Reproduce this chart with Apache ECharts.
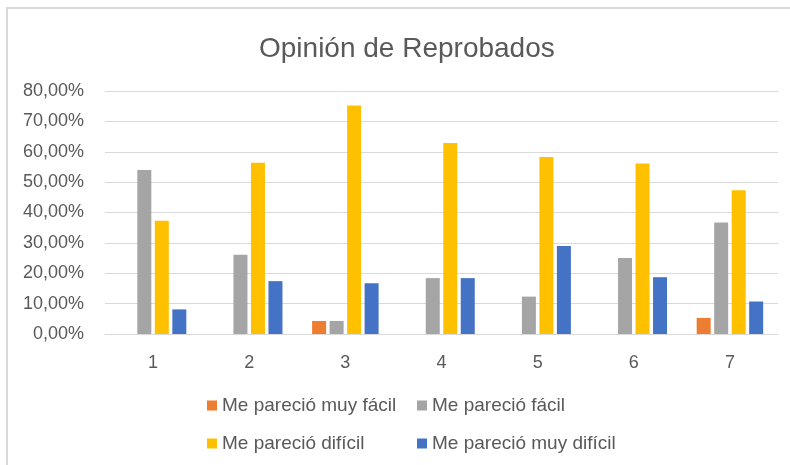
<!DOCTYPE html>
<html>
<head>
<meta charset="utf-8">
<script src="https://cdn.jsdelivr.net/npm/echarts@6/dist/echarts.min.js"></script>
<style>
  html, body { margin: 0; padding: 0; background: #fff; }
  #grafica { width: 790px; height: 465px; }
</style>
</head>
<body>
<div id="grafica"></div>
<script>
// datos
var categorias = ['1', '2', '3', '4', '5', '6', '7'];
var muyFacil    = [0, 0, 4.3, 0, 0, 0, 5.3];
var facil       = [54.0, 26.1, 4.3, 18.4, 12.3, 25.0, 36.7];
var dificil     = [37.3, 56.4, 75.2, 62.9, 58.3, 56.1, 47.3];
var muyDificil  = [8.1, 17.4, 16.7, 18.4, 29.0, 18.7, 10.7];
var nombres = ['Me pareció muy fácil', 'Me pareció fácil', 'Me pareció difícil', 'Me pareció muy difícil'];
var colores = ['#ed7d31', '#a5a5a5', '#ffc000', '#4472c4'];

var fuente = 'Liberation Sans';
var grisTexto = '#595959';

function leyenda(nombre, x, y) {
    return {
        data: [nombre],
        left: x,
        top: y,
        itemWidth: 10,
        itemHeight: 10,
        itemGap: 0,
        icon: 'rect',
        selectedMode: false,
        textStyle: { color: grisTexto, fontSize: 19, fontFamily: fuente }
    };
}

function serie(i, datos) {
    return {
        name: nombres[i],
        type: 'bar',
        barWidth: 14,
        barGap: '25%',
        itemStyle: { color: colores[i] },
        data: datos
    };
}

var grafica = echarts.init(document.getElementById('grafica'));
var opcion = {
    backgroundColor: '#fff',
    animation: false,
    title: {
        text: 'Opinión de Reprobados',
        left: 254,
        top: 30,
        textStyle: { color: grisTexto, fontSize: 28, fontWeight: 'normal', fontFamily: fuente }
    },
    graphic: [{
        type: 'rect',
        shape: { x: 7, y: 8, width: 820, height: 500 },
        style: { fill: 'none', stroke: '#d9d9d9', lineWidth: 2 },
        silent: true
    }],
    legend: [
        leyenda(nombres[0], 202, 391),
        leyenda(nombres[1], 412, 391),
        leyenda(nombres[2], 202, 429),
        leyenda(nombres[3], 412, 429)
    ],
    grid: { left: 105, right: 12, top: 91, bottom: 131 },
    xAxis: {
        type: 'category',
        data: categorias,
        axisTick: { show: false },
        axisLine: { lineStyle: { color: '#d9d9d9', width: 1 } },
        axisLabel: { color: grisTexto, fontSize: 18, fontFamily: fuente, margin: 20 }
    },
    yAxis: {
        type: 'value',
        min: 0,
        max: 80,
        interval: 10,
        axisLine: { show: false },
        axisTick: { show: false },
        splitLine: { lineStyle: { color: '#d9d9d9', width: 1 } },
        axisLabel: {
            color: grisTexto, fontSize: 18, fontFamily: fuente, margin: 21,
            formatter: function (v) { return v.toFixed(2).replace('.', ',') + '%'; }
        }
    },
    series: [
        serie(0, muyFacil),
        serie(1, facil),
        serie(2, dificil),
        serie(3, muyDificil)
    ]
};
grafica.setOption(opcion);
</script>
</body>
</html>
